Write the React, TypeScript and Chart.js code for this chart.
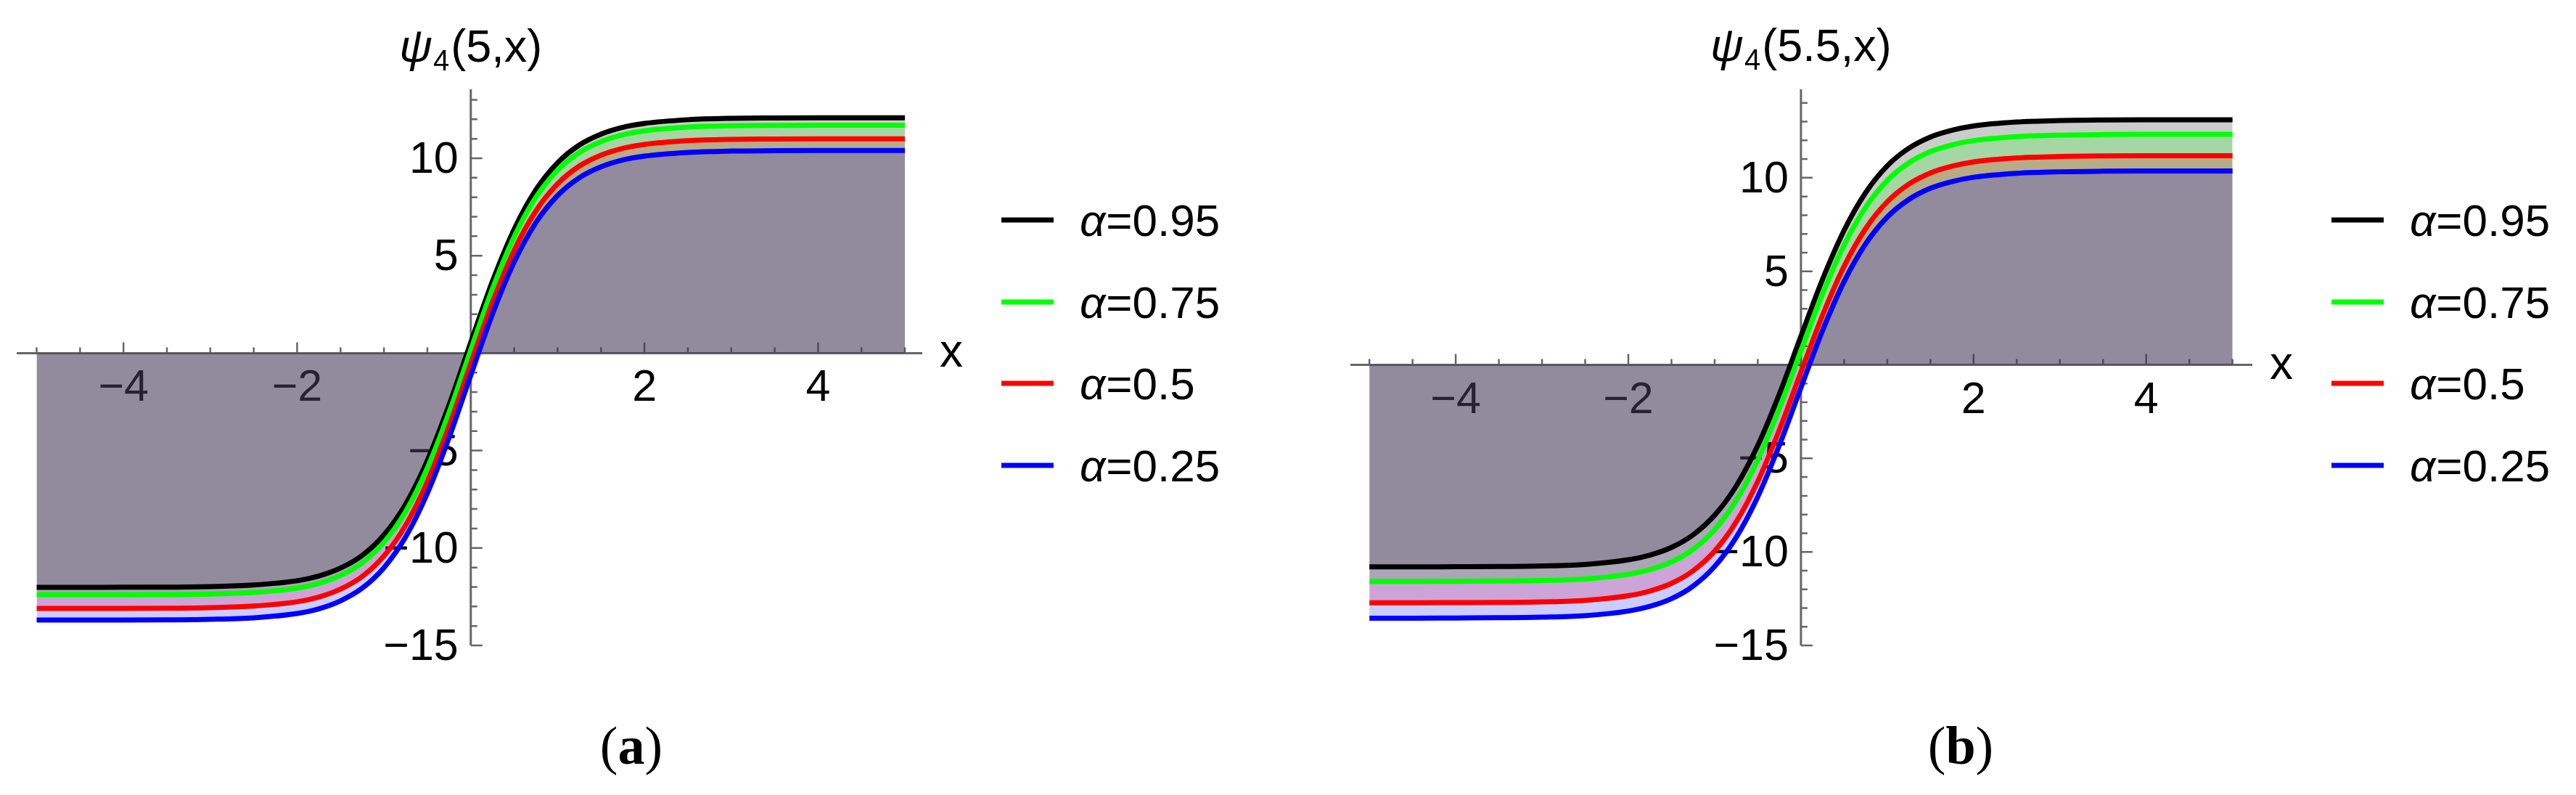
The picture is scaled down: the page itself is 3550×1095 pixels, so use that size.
import React, { useEffect, useRef } from 'react';
import { Chart, registerables } from 'chart.js';

Chart.register(...registerables);

// ---------------- data ----------------
const xValues = [-5, -4.5, -4, -3.5, -3, -2.5, -2, -1.75, -1.5, -1.25, -1, -0.75, -0.5, -0.25, 0, 0.25, 0.5, 0.75, 1, 1.25, 1.5, 1.75, 2, 2.5, 3, 3.5, 4, 4.5, 5];

const alphaLabels = ['0.95', '0.75', '0.5', '0.25'];
const seriesColors = ['#000000', '#00ff00', '#ff0000', '#0000ff'];
const fillColors = ['rgba(0,0,0,0.2)', 'rgba(0,255,0,0.2)', 'rgba(255,0,0,0.2)', 'rgba(0,0,255,0.2)'];

// panel (a): psi_4(5,x)
const a095 = [-12.02, -12.02, -12.01, -12.01, -11.98, -11.9, -11.68, -11.44, -11.03, -10.38, -9.33, -7.75, -5.51, -2.66, 0.55, 3.69, 6.36, 8.38, 9.77, 10.68, 11.24, 11.59, 11.79, 11.98, 12.05, 12.07, 12.08, 12.08, 12.08];
const a075 = [-12.4, -12.4, -12.4, -12.39, -12.36, -12.28, -12.06, -11.82, -11.41, -10.76, -9.71, -8.13, -5.89, -3.04, 0.17, 3.31, 5.98, 8.0, 9.39, 10.3, 10.86, 11.21, 11.41, 11.6, 11.67, 11.69, 11.7, 11.7, 11.7];
const a050 = [-13.1, -13.1, -13.1, -13.09, -13.06, -12.98, -12.76, -12.52, -12.11, -11.46, -10.41, -8.83, -6.59, -3.74, -0.53, 2.61, 5.28, 7.3, 8.69, 9.6, 10.16, 10.51, 10.71, 10.9, 10.97, 10.99, 11.0, 11.0, 11.0];
const a025 = [-13.7, -13.7, -13.7, -13.69, -13.66, -13.58, -13.36, -13.12, -12.71, -12.06, -11.01, -9.43, -7.19, -4.34, -1.13, 2.01, 4.68, 6.7, 8.09, 9.0, 9.56, 9.91, 10.11, 10.3, 10.37, 10.39, 10.4, 10.4, 10.4];

// panel (b): psi_4(5.5,x)
const b095 = [-10.8, -10.8, -10.79, -10.78, -10.75, -10.67, -10.42, -10.17, -9.76, -9.09, -8.04, -6.48, -4.31, -1.56, 1.53, 4.57, 7.19, 9.21, 10.64, 11.58, 12.18, 12.54, 12.77, 12.98, 13.06, 13.09, 13.1, 13.1, 13.1];
const b075 = [-11.58, -11.58, -11.57, -11.56, -11.53, -11.45, -11.2, -10.95, -10.54, -9.87, -8.82, -7.26, -5.09, -2.34, 0.75, 3.79, 6.41, 8.43, 9.86, 10.8, 11.4, 11.76, 11.99, 12.2, 12.28, 12.31, 12.32, 12.32, 12.32];
const b050 = [-12.72, -12.72, -12.71, -12.7, -12.67, -12.59, -12.34, -12.09, -11.68, -11.01, -9.96, -8.4, -6.23, -3.48, -0.39, 2.65, 5.27, 7.29, 8.72, 9.66, 10.26, 10.62, 10.85, 11.06, 11.14, 11.17, 11.18, 11.18, 11.18];
const b025 = [-13.54, -13.54, -13.53, -13.52, -13.49, -13.41, -13.16, -12.91, -12.5, -11.83, -10.78, -9.22, -7.05, -4.3, -1.21, 1.83, 4.45, 6.47, 7.9, 8.84, 9.44, 9.8, 10.03, 10.24, 10.32, 10.35, 10.36, 10.36, 10.36];

// ticks
const xMajorTicks = [-4, -2, 2, 4];
const xMinorTicks = [-5, -4.5, -3.5, -3, -2.5, -1.5, -1, -0.5, 0.5, 1, 1.5, 2.5, 3, 3.5, 4.5, 5];
const yMajorTicks = [-15, -10, -5, 5, 10];
const yMinorTicksA = [-14, -13, -12, -11, -9, -8, -7, -6, -4, -3, -2, -1, 1, 2, 3, 4, 6, 7, 8, 9, 11, 12, 13];
const yMinorTicksB = [-14, -13, -12, -11, -9, -8, -7, -6, -4, -3, -2, -1, 1, 2, 3, 4, 6, 7, 8, 9, 11, 12, 13, 14];

// ---------------- styling ----------------
const SANS = '"Liberation Sans", Arial, Helvetica, sans-serif';
const AXIS_COLOR = '#666666';
const CANVAS_W = 1775;
const CANVAS_H = 1095;

type PanelCfg = {
  series: number[][];
  titleArg: string;
  xMin: number; xMax: number; yMin: number; yMax: number;
  yMinor: number[];
  pad: { left: number; right: number; top: number; bottom: number };
  titleBase: number;
};

const fmt = (v: number) => (v < 0 ? '\u2212' + Math.abs(v) : String(v));

function makeDecor(cfg: PanelCfg) {
  return {
    id: 'mathDecor',
    beforeDraw(chart: any) {
      const { ctx, chartArea } = chart;
      const xs = chart.scales.x;
      const ys = chart.scales.y;
      const x0 = xs.getPixelForValue(0);
      const y0 = ys.getPixelForValue(0);
      ctx.save();
      // tick labels (beneath fills)
      ctx.fillStyle = '#000';
      ctx.font = `61px ${SANS}`;
      ctx.textAlign = 'center';
      ctx.textBaseline = 'alphabetic';
      xMajorTicks.forEach((v) => ctx.fillText(fmt(v), xs.getPixelForValue(v), y0 + 66));
      ctx.textAlign = 'right';
      yMajorTicks.forEach((v) => ctx.fillText(fmt(v), x0 - 17, ys.getPixelForValue(v) + 20));
      // axes
      ctx.strokeStyle = AXIS_COLOR;
      ctx.lineWidth = 3;
      ctx.beginPath();
      ctx.moveTo(chartArea.left, y0);
      ctx.lineTo(chartArea.right, y0);
      ctx.moveTo(x0, chartArea.top);
      ctx.lineTo(x0, chartArea.bottom);
      ctx.stroke();
      ctx.lineWidth = 2.5;
      ctx.beginPath();
      xMajorTicks.forEach((v) => { const p = xs.getPixelForValue(v); ctx.moveTo(p, y0); ctx.lineTo(p, y0 - 15); });
      xMinorTicks.forEach((v) => { const p = xs.getPixelForValue(v); ctx.moveTo(p, y0); ctx.lineTo(p, y0 - 8); });
      yMajorTicks.forEach((v) => { const p = ys.getPixelForValue(v); ctx.moveTo(x0, p); ctx.lineTo(x0 + 16, p); });
      cfg.yMinor.forEach((v) => { const p = ys.getPixelForValue(v); ctx.moveTo(x0, p); ctx.lineTo(x0 + 9, p); });
      ctx.stroke();
      ctx.restore();
    },
    afterDraw(chart: any) {
      const { ctx, chartArea } = chart;
      const xs = chart.scales.x;
      const ys = chart.scales.y;
      const x0 = xs.getPixelForValue(0);
      const y0 = ys.getPixelForValue(0);
      ctx.save();
      ctx.fillStyle = '#000';
      ctx.textBaseline = 'alphabetic';
      // axis label x
      ctx.font = `64px ${SANS}`;
      ctx.textAlign = 'center';
      ctx.fillText('x', chartArea.right + 40, y0 + 19);
      ctx.textAlign = 'left';
      // title psi_4(...)
      ctx.font = `italic 63px ${SANS}`;
      const w1 = ctx.measureText('\u03C8').width;
      ctx.font = `40px ${SANS}`;
      const w2 = ctx.measureText('4').width + 3;
      ctx.font = `63px ${SANS}`;
      const w3 = ctx.measureText(cfg.titleArg).width;
      const sx = x0 - (w1 + w2 + w3) / 2;
      ctx.font = `italic 63px ${SANS}`;
      ctx.fillText('\u03C8', sx, cfg.titleBase);
      ctx.font = `40px ${SANS}`;
      ctx.fillText('4', sx + w1 + 1, cfg.titleBase + 12);
      ctx.font = `63px ${SANS}`;
      ctx.fillText(cfg.titleArg, sx + w1 + w2, cfg.titleBase);
      // legend
      const rows = [303, 416, 528, 641];
      const lx0 = chartArea.right + 109;
      const lx1 = chartArea.right + 181;
      const tx = chartArea.right + 217;
      chart.data.datasets.forEach((ds: any, i: number) => {
        const ry = rows[i];
        ctx.strokeStyle = ds.borderColor;
        ctx.lineWidth = 7;
        ctx.lineCap = 'butt';
        ctx.beginPath();
        ctx.moveTo(lx0, ry);
        ctx.lineTo(lx1, ry);
        ctx.stroke();
        ctx.fillStyle = '#000';
        ctx.font = `italic 62px ${SANS}`;
        ctx.fillText('\u03B1', tx, ry + 22);
        const wa = ctx.measureText('\u03B1').width;
        ctx.font = `62px ${SANS}`;
        ctx.fillText('=' + alphaLabels[i], tx + wa + 1, ry + 22);
      });
      ctx.restore();
    },
  };
}

function Panel({ cfg, left }: { cfg: PanelCfg; left: number }) {
  const ref = useRef<HTMLCanvasElement | null>(null);
  useEffect(() => {
    if (!ref.current) return;
    const chart = new Chart(ref.current, {
      type: 'line',
      data: {
        datasets: cfg.series.map((s, i) => ({
          label: '\u03B1=' + alphaLabels[i],
          data: xValues.map((xv, j) => ({ x: xv, y: s[j] })),
          borderColor: seriesColors[i],
          backgroundColor: fillColors[i],
          borderWidth: 7,
          pointRadius: 0,
          fill: 'origin',
          cubicInterpolationMode: 'monotone',
          order: cfg.series.length - i,
        })),
      },
      options: {
        responsive: false,
        animation: false,
        devicePixelRatio: 1,
        events: [],
        layout: { padding: cfg.pad },
        scales: {
          x: { type: 'linear', min: cfg.xMin, max: cfg.xMax, display: false },
          y: { type: 'linear', min: cfg.yMin, max: cfg.yMax, display: false },
        },
        plugins: {
          legend: { display: false },
          title: { display: false },
          tooltip: { enabled: false },
          filler: { drawTime: 'beforeDatasetsDraw', propagate: false },
        },
      } as any,
      plugins: [makeDecor(cfg)],
    } as any);
    return () => chart.destroy();
  }, [cfg]);
  return (
    <canvas
      ref={ref}
      width={CANVAS_W}
      height={CANVAS_H}
      style={{ position: 'absolute', left, top: 0, width: CANVAS_W, height: CANVAS_H }}
    />
  );
}

const panelA: PanelCfg = {
  series: [a095, a075, a050, a025],
  titleArg: '(5,x)',
  xMin: -5.23, xMax: 5.2, yMin: -15, yMax: 13.54,
  yMinor: yMinorTicksA,
  pad: { left: 23, right: CANVAS_W - 1271, top: 123, bottom: CANVAS_H - 889 },
  titleBase: 85,
};

const panelB: PanelCfg = {
  series: [b095, b075, b050, b025],
  titleArg: '(5.5,x)',
  xMin: -5.22, xMax: 5.23, yMin: -15, yMax: 14.73,
  yMinor: yMinorTicksB,
  pad: { left: 86, right: CANVAS_W - 1329, top: 123, bottom: CANVAS_H - 889 },
  titleBase: 84,
};

const captionStyle: React.CSSProperties = {
  position: 'absolute',
  top: 990,
  width: 300,
  textAlign: 'center',
  fontFamily: '"Liberation Serif", "Times New Roman", serif',
  fontSize: 74,
  lineHeight: '74px',
  color: '#000',
};

export default function App() {
  return (
    <div style={{ position: 'absolute', left: 0, top: 0, width: 3550, height: 1095, background: '#ffffff', overflow: 'hidden' }}>
      <Panel cfg={panelA} left={0} />
      <Panel cfg={panelB} left={1775} />
      <div style={{ ...captionStyle, left: 870 - 150 }}>(<b>a</b>)</div>
      <div style={{ ...captionStyle, left: 2702 - 150 }}>(<b>b</b>)</div>
    </div>
  );
}
